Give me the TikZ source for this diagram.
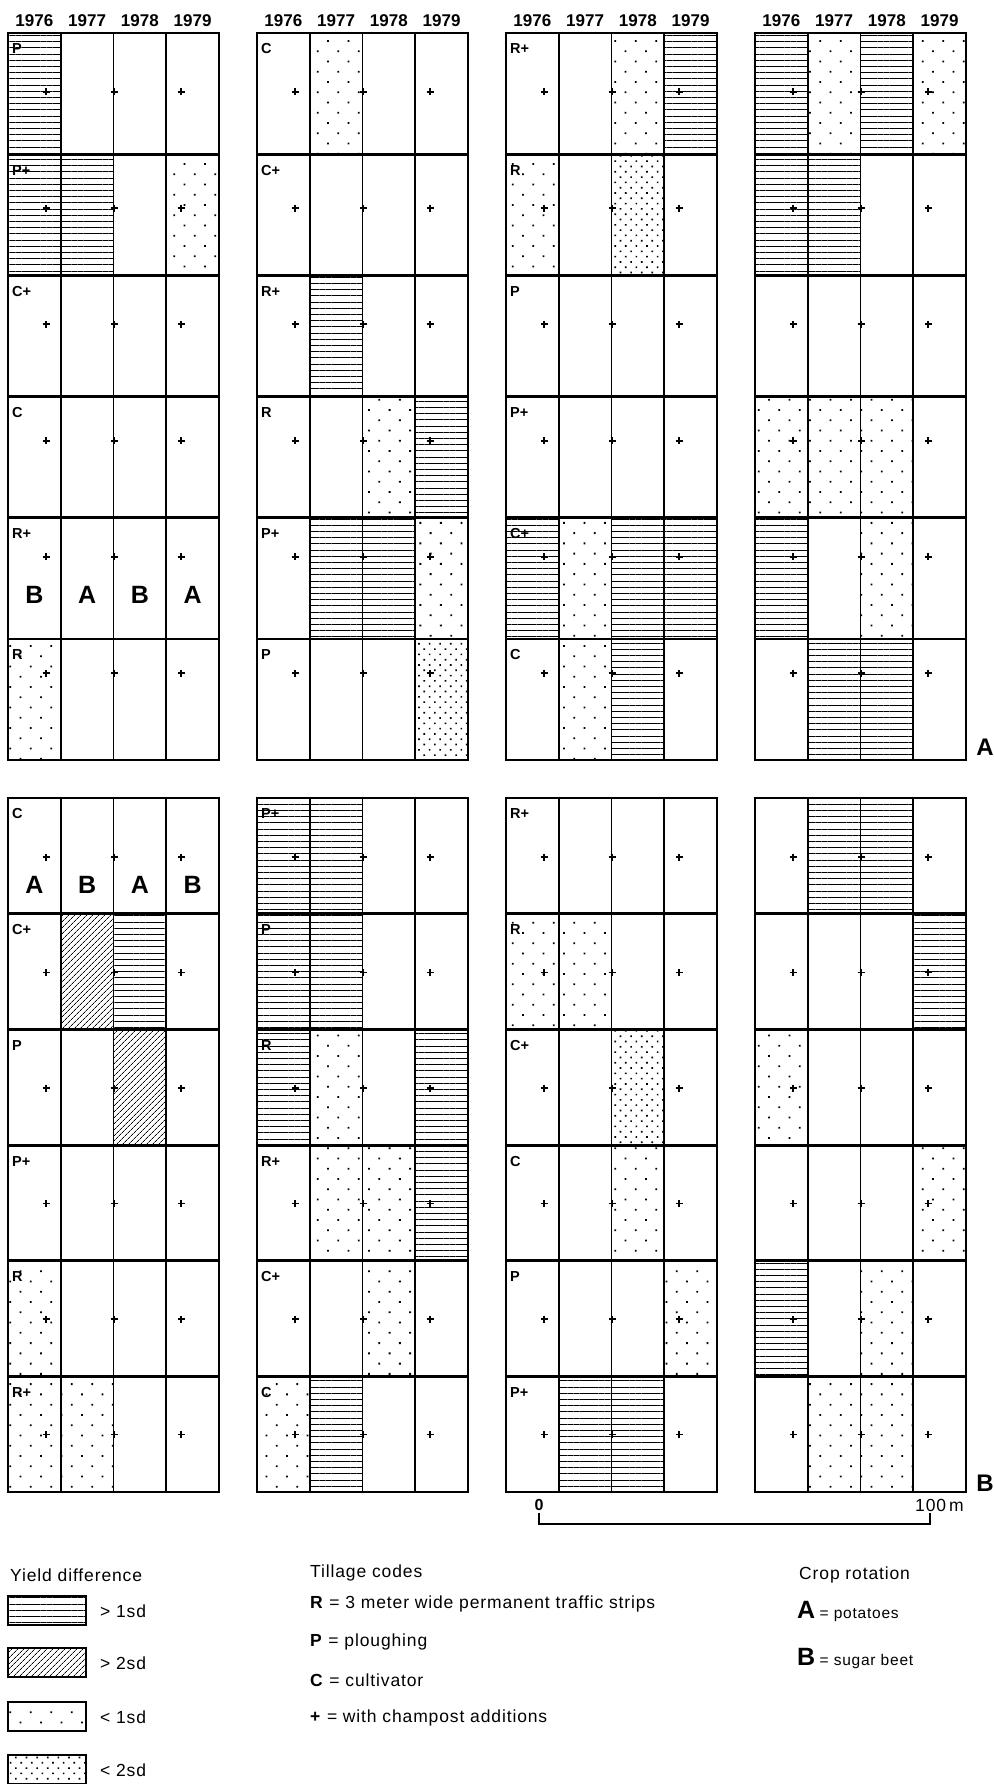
\documentclass[tikz,border=0pt]{standalone}
\usepackage{fontspec}
\setmainfont{Liberation Sans}
\newfontfamily\legfont[LetterSpace=5]{Liberation Sans}
\usetikzlibrary{patterns.meta, positioning}

\begin{document}
\begin{tikzpicture}[
  x = 1pt, y = -1pt,
  grid/.style   = {line width=1.8pt},
  sep/.style    = {line width=2.8pt},
  hl/.style     = {pattern={Lines[angle=0, distance=6.2pt, line width=1pt]}},
  dg/.style     = {pattern={Lines[angle=45, distance=4pt, line width=0.7pt]}},
  sd/.style     = {pattern={Dots[angle=45, distance=14.5pt, radius=1.25pt]}},
  dd/.style     = {pattern={Dots[angle=45, distance=7.5pt, radius=1.15pt]}},
  year/.style   = {font=\bfseries\fontsize{17}{17}\selectfont, inner sep=0},
  code/.style   = {font=\bfseries\fontsize{14.5}{14.5}\selectfont, anchor=west, inner sep=0},
  crop/.style   = {font=\bfseries\fontsize{25}{25}\selectfont, inner sep=0},
  cmp/.style    = {line width=1.9pt},
  legend/.style = {font=\legfont\fontsize{17.5}{17.5}\selectfont, anchor=west, inner sep=0},
  small/.style  = {font=\legfont\fontsize{15.5}{15.5}\selectfont, inner sep=0},
  swatch/.style = {draw, line width=1.5pt},
]
\useasboundingbox (0,0) rectangle (993,1784);

% shaded plots: panel top / row height / block / row-col-pattern
\foreach \ptop/\rh/\blk/\cells in {
  33/121.2/1/{1/1/hl, 2/1/hl, 2/2/hl, 2/4/sd, 6/1/sd},
  33/121.2/2/{1/2/sd, 3/2/hl, 4/3/sd, 4/4/hl, 5/2/hl, 5/3/hl, 5/4/sd, 6/4/dd},
  33/121.2/3/{1/3/sd, 1/4/hl, 2/1/sd, 2/3/dd, 5/1/hl, 5/2/sd, 5/3/hl, 5/4/hl, 6/2/sd, 6/3/hl},
  33/121.2/4/{1/1/hl, 1/2/sd, 1/3/hl, 1/4/sd, 2/1/hl, 2/2/hl, 4/1/sd, 4/2/sd, 4/3/sd, 5/1/hl, 5/3/sd, 6/2/hl, 6/3/hl},
  798/115.7/1/{2/2/dg, 2/3/hl, 3/3/dg, 5/1/sd, 6/1/sd, 6/2/sd},
  798/115.7/2/{1/1/hl, 1/2/hl, 2/1/hl, 2/2/hl, 3/1/hl, 3/2/sd, 3/4/hl, 4/2/sd, 4/3/sd, 4/4/hl, 5/3/sd, 6/1/sd, 6/2/hl},
  798/115.7/3/{2/1/sd, 2/2/sd, 3/3/dd, 4/3/sd, 5/4/sd, 6/2/hl, 6/3/hl},
  798/115.7/4/{1/2/hl, 1/3/hl, 2/4/hl, 3/1/sd, 4/4/sd, 5/1/hl, 5/3/sd, 6/2/sd, 6/3/sd}%
}{
  \foreach \row/\col/\pat in \cells
    \path[\pat] ({8+249*(\blk-1)+52.75*(\col-1)}, {\ptop+\rh*(\row-1)}) rectangle ++(52.75, \rh);
}

% champost points
\foreach \py/\dy in {92/116.2, 857/115.5}
  \foreach \blk in {1,...,4}
    \foreach \dx in {38, 106, 173}
      \foreach \row in {1,...,6}
        \draw[cmp] ({8+249*(\blk-1)+\dx-3.5}, {\py+\dy*(\row-1)}) -- ++(7,0) ++(-3.5,-3.5) -- ++(0,7);

% plot grids
\foreach \ptop/\rh in {33/121.2, 798/115.7}
  \foreach \blk in {1,...,4} {
    \draw[grid] ({8+249*(\blk-1)}, \ptop) rectangle ++(211, {6*\rh});
    \foreach \col in {1,2,3}
      \draw[grid] ({8+249*(\blk-1)+52.75*\col}, \ptop) -- ++(0, {6*\rh});
    \foreach \row in {1,...,5}
      \draw[sep] ({8+249*(\blk-1)}, {\ptop+\rh*\row}) -- ++(211, 0);
  }

% years
\foreach \blk in {1,...,4}
  \foreach \yr [count=\col] in {1976,1977,1978,1979}
    \node[year] (yr-\blk-\col) at ({8+249*(\blk-1)+52.75*(\col-0.5)}, 21) {\yr};

% tillage codes
\foreach \ptop/\rh/\blk/\codes/\pn in {
  33/121.2/1/{P,P+,C+,C,R+,R}/u, 33/121.2/2/{C,C+,R+,R,P+,P}/u, 33/121.2/3/{R+,R,P,P+,C+,C}/u,
  798/115.7/1/{C,C+,P,P+,R,R+}/l, 798/115.7/2/{P+,P,R,R+,C+,C}/l, 798/115.7/3/{R+,R,C+,C,P,P+}/l}
  \foreach \code [count=\row] in \codes
    \node[code] (\pn\blk-\row) at ({8+249*(\blk-1)+4}, {\ptop+\rh*(\row-1)+16}) {\code};

% crop rotation letters
\foreach \lt [count=\col] in {B,A,B,A}
  \node[crop] (ucrop-\col) at ({8+52.75*(\col-0.5)}, 595) {\lt};
\foreach \lt [count=\col] in {A,B,A,B}
  \node[crop] (lcrop-\col) at ({8+52.75*(\col-0.5)}, 885) {\lt};
\node[crop, font=\bfseries\fontsize{24}{24}\selectfont] (panelA) at (985,747) {A};
\node[crop, font=\bfseries\fontsize{24}{24}\selectfont] (panelB) at (985,1483) {B};

% scale bar
\coordinate (bar0) at (539,1524);
\coordinate (bar1) at (930,1524);
\draw[line width=2.2pt] ([yshift=11pt]bar0) -- (bar0) -- (bar1) -- ([yshift=11pt]bar1);
\node[legend, anchor=center, font=\bfseries\fontsize{16}{16}\selectfont] (zero) at (539,1505) {0};
\node[legend] (hundred) at (915,1505) {100\,m};

% legend
\node[legend] (yd) at (10,1575) {Yield difference};
\foreach \pat/\y/\lab in {hl/1596/{> 1sd}, dg/1648/{> 2sd}, sd/1702/{< 1sd}, dd/1755/{< 2sd}} {
  \path[swatch, \pat] (8,\y) rectangle ++(78,29);
  \node[legend] (sw-\pat) at (100, {\y+15}) {\lab};
}

\node[legend] (tc) at (310,1573) {Tillage codes};
\node[legend] (tcR) at (310,1604) {\textbf{R} = 3 meter wide permanent traffic strips};
\node[legend] (tcP) at (310,1642) {\textbf{P} = ploughing};
\node[legend] (tcC) at (310,1680) {\textbf{C} = cultivator};
\node[legend] (tcX) at (310,1718) {\textbf{+} = with champost additions};

\node[legend] (cr) at (799,1575) {Crop rotation};
\node[crop, anchor=west] (crA) at (797,1610) {A};
\node[small, anchor=base west] (crAt) at ([xshift=4pt]crA.base east) {= potatoes};
\node[crop, anchor=west] (crB) at (797,1657) {B};
\node[small, anchor=base west] (crBt) at ([xshift=4pt]crB.base east) {= sugar beet};
\end{tikzpicture}
\end{document}
